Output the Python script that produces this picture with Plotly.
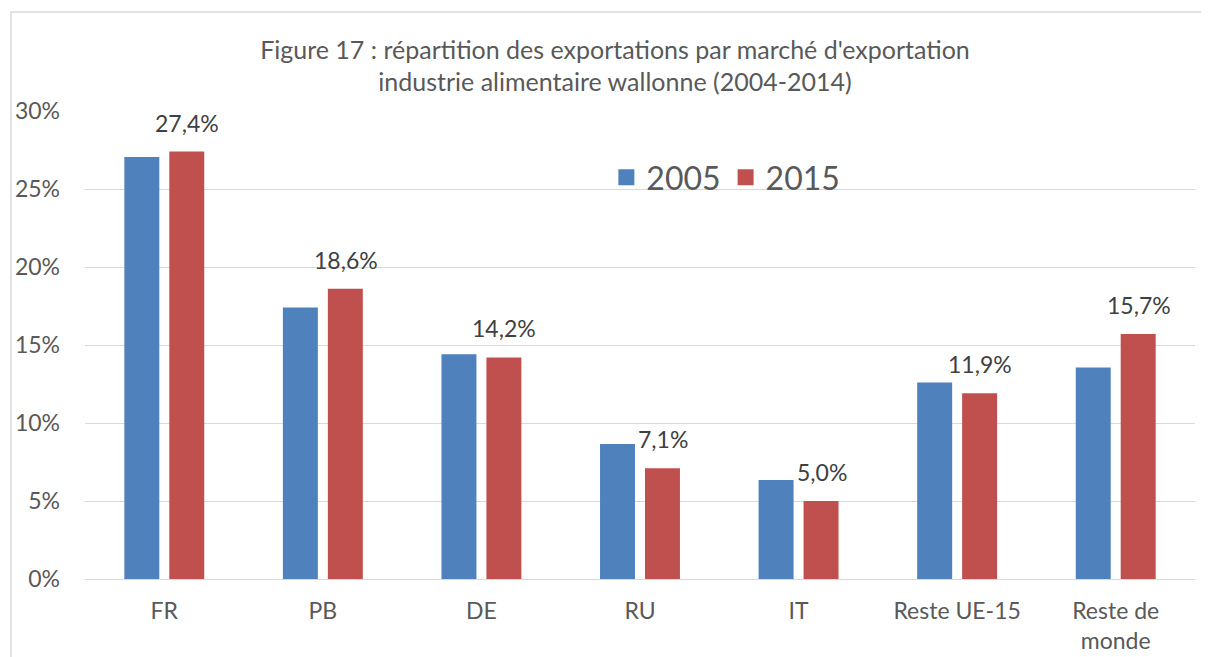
import plotly.graph_objects as go

categories = ["FR", "PB", "DE", "RU", "IT", "Reste UE-15", "Reste de<br>monde"]
values_2005 = [27.05, 17.4, 14.4, 8.65, 6.35, 12.6, 13.55]
values_2015 = [27.4, 18.6, 14.2, 7.1, 5.0, 11.9, 15.7]
y_ticks = [0, 5, 10, 15, 20, 25, 30]
y_tick_labels = ["0%", "5%", "10%", "15%", "20%", "25%", "30%"]

BLUE = "#4F81BD"
RED = "#C0504D"
FONT = "Lato"

fig = go.Figure()
fig.add_trace(go.Bar(x=categories, y=values_2005, name="2005", marker=dict(color=BLUE, line=dict(width=0)),
                     showlegend=False, legendgroup="a"))
fig.add_trace(go.Bar(x=categories, y=values_2015, name="2015", marker=dict(color=RED, line=dict(width=0)),
                     showlegend=False, legendgroup="b"))
# legend entries
fig.add_trace(go.Scatter(x=[None], y=[None], mode="markers", name="2005", legendgroup="a",
                         marker=dict(symbol="square", size=20, color=BLUE)))
fig.add_trace(go.Scatter(x=[None], y=[None], mode="markers", name="2015", legendgroup="b",
                         marker=dict(symbol="square", size=20, color=RED)))

# data labels on the 2015 bars
for cat, val in zip(categories, values_2015):
    fig.add_annotation(x=cat, y=val, xref="x", yref="y", text=f"{val:.1f}%".replace(".", ","),
                       showarrow=False, xanchor="center", yanchor="bottom", xshift=23, yshift=13,
                       font=dict(family=FONT, size=23, color="#404040"))

# page body adds an 8px offset (left/top); compensate so the plot area lands where the reference has it
fig.update_layout(
    width=1201, height=649,
    margin=dict(l=77, r=14, t=103, b=78, autoexpand=False),
    paper_bgcolor="white", plot_bgcolor="white",
    separators=",.",
    barmode="group", bargap=0.433, bargroupgap=0.222,
    font=dict(family=FONT, color="#595959"),
    title=dict(text="Figure 17 : répartition des exportations par marché d'exportation<br>industrie alimentaire wallonne (2004-2014)",
               x=0.5054, xref="container", xanchor="center", y=0.922, yref="container", yanchor="top",
               font=dict(family=FONT, size=25, color="#595959")),
    legend=dict(orientation="h", x=0.4697, xanchor="left", y=0.858, yanchor="middle",
                font=dict(family=FONT, size=32, color="#595959"), bgcolor="rgba(0,0,0,0)",
                itemclick=False, itemdoubleclick=False),
    xaxis=dict(showgrid=False, showline=True, linecolor="#D9D9D9", linewidth=1,
               tickfont=dict(family=FONT, size=23, color="#595959"), ticks="",
               ticklabelstandoff=11, automargin=False, fixedrange=True),
    yaxis=dict(range=[0, 30], tickmode="array", tickvals=y_ticks, ticktext=y_tick_labels,
               showgrid=True, gridcolor="#D9D9D9",
               gridwidth=1, zeroline=False, showline=False,
               tickfont=dict(family=FONT, size=23, color="#595959"), ticklabelstandoff=24,
               automargin=False, fixedrange=True),
    shapes=[dict(type="rect", xref="paper", yref="paper", x0=-0.0667, x1=1.2, y0=-0.25, y1=1.2115,
                 line=dict(color="#D9D9D9", width=1.5), fillcolor="rgba(0,0,0,0)", layer="below")],
)

fig.write_html("out.html")
